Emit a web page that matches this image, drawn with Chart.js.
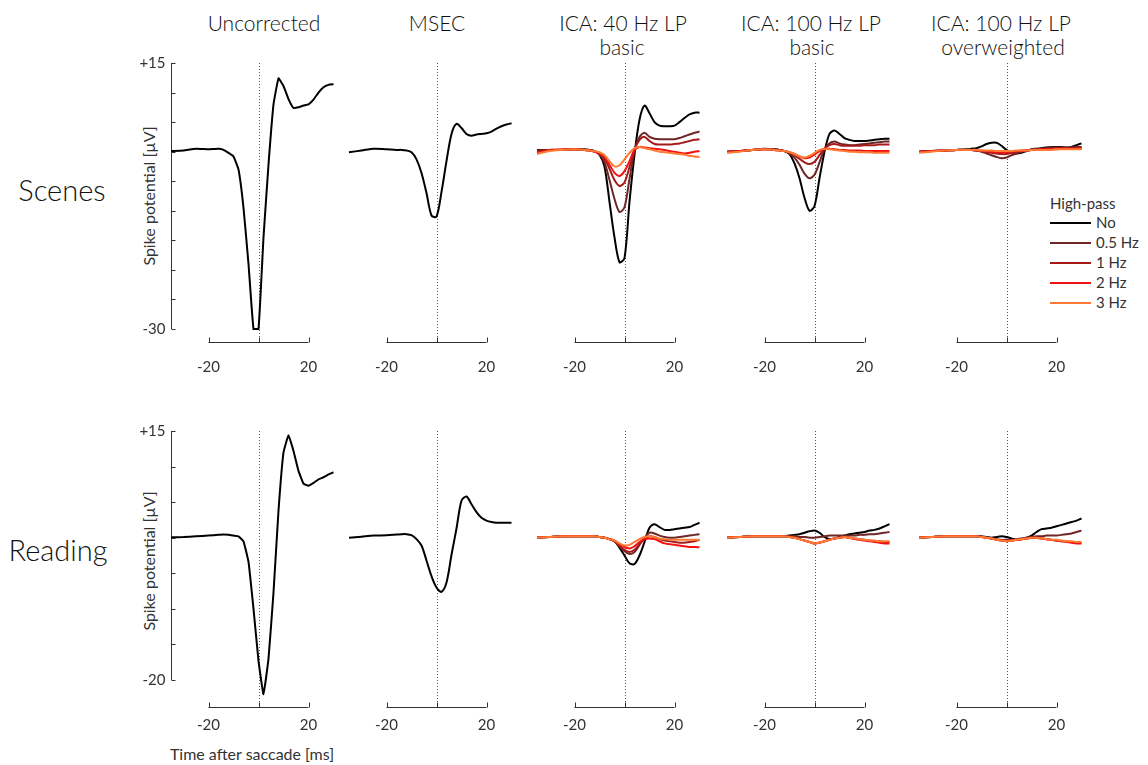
<!DOCTYPE html>
<html>
<head>
<meta charset="utf-8">
<script src="https://cdn.jsdelivr.net/npm/chart.js@4.4.1/dist/chart.umd.min.js"></script>
<style>
  body { margin: 0; background: #fff; width: 1148px; height: 765px; position: relative; overflow: hidden;
         font-family: "Lato", "Open Sans", "Liberation Sans", sans-serif; font-weight: 300; color: #111; }
  .lbl { position: absolute; white-space: nowrap; transform: translate(-50%, -50%); line-height: 1; }
  .rot { transform: translate(-50%, -50%) rotate(-90deg); }
  .small { font-weight: 400; color: #333; }
  canvas { position: absolute; }
  .leg { position: absolute; font-size: 15px; font-weight: 400; color: #333; line-height: 1; white-space: nowrap; }
  span.ln { position: absolute; display: block; width: 41px; height: 0; border-top: 2px solid #000; }
</style>
</head>
<body>
<div id="labels"></div>
<script>
// time axis (ms after saccade onset)
const times = [-35, -30, -25, -20, -16, -14, -12, -10, -8, -6, -4, -2, 0, 2, 4, 6, 8, 10, 12, 14, 16, 18, 20, 22, 24, 26, 28, 30];

// Scenes
const scenesUncorrected = [0.1, 0.2, 0.5, 0.4, 0.5, 0.3, -0.2, -0.8, -3.0, -9.5, -19, -30, -30, -14.5, -2.2, 8.0, 12.4, 11.1, 8.9, 7.4, 7.5, 7.8, 8.0, 8.8, 10.0, 10.9, 11.3, 11.4];
const scenesMsec = [-0.1, 0.2, 0.5, 0.4, 0.3, 0.3, 0.2, -0.1, -1.3, -3.6, -7.0, -10.8, -11.0, -6.8, -1.6, 3.0, 4.7, 4.0, 3.0, 2.7, 2.9, 3.0, 3.1, 3.4, 3.9, 4.3, 4.6, 4.8];

const scenes40No  = [0.3, 0.3, 0.3, 0.4, 0.4, 0.3, 0.1, -0.5, -2.5, -8.5, -14.5, -18.7, -18.0, -8.5, -0.5, 5.4, 7.8, 6.5, 5.0, 4.4, 4.3, 4.3, 4.4, 5.0, 5.7, 6.3, 6.6, 6.6];
const scenes40Hp05 = [0.2, 0.3, 0.3, 0.4, 0.3, 0.2, 0.1, -0.4, -1.8, -4.8, -8.0, -10.2, -9.4, -4.6, 0.2, 2.5, 3.2, 2.5, 2.2, 2.1, 2.1, 2.1, 2.1, 2.3, 2.6, 2.9, 3.2, 3.4];
const scenes40Hp1 = [0.1, 0.3, 0.3, 0.4, 0.3, 0.2, 0.0, -0.4, -1.2, -2.9, -4.8, -5.8, -5.2, -2.6, 0.3, 2.0, 2.5, 1.8, 1.3, 1.2, 1.2, 1.2, 1.3, 1.4, 1.6, 1.8, 2.0, 2.1];
const scenes40Hp2 = [-0.2, 0.2, 0.4, 0.4, 0.3, 0.2, 0.0, -0.3, -0.9, -2.2, -3.6, -4.1, -3.3, -1.6, 0.3, 0.8, 0.7, 0.6, 0.5, 0.4, 0.3, 0.1, 0.0, -0.2, -0.3, -0.2, 0.0, 0.1];
const scenes40Hp3 = [-0.4, 0.1, 0.3, 0.4, 0.3, 0.2, 0.1, -0.1, -0.6, -1.6, -2.5, -2.3, -1.3, -0.2, 0.6, 0.8, 0.6, 0.4, 0.2, 0.0, -0.1, -0.2, -0.3, -0.4, -0.5, -0.7, -0.8, -0.9];

const scenes100No  = [0.0, 0.1, 0.3, 0.5, 0.4, 0.3, 0.1, -0.4, -2.0, -4.5, -7.8, -10.0, -9.2, -4.5, 0.0, 3.0, 3.6, 3.0, 2.3, 2.0, 1.8, 1.8, 1.8, 1.9, 2.0, 2.1, 2.2, 2.2];
const scenes100Hp05 = [0.0, 0.1, 0.3, 0.4, 0.4, 0.3, 0.1, -0.3, -1.0, -2.2, -3.7, -4.5, -3.9, -1.8, 0.4, 1.4, 1.7, 1.4, 1.2, 1.1, 1.1, 1.2, 1.3, 1.4, 1.5, 1.6, 1.7, 1.7];
const scenes100Hp1 = [0.0, 0.1, 0.3, 0.4, 0.3, 0.2, 0.1, -0.2, -0.6, -1.2, -1.8, -2.1, -1.7, -0.6, 0.5, 1.1, 1.3, 1.1, 1.0, 1.0, 1.0, 1.0, 1.1, 1.1, 1.1, 1.2, 1.2, 1.2];
const scenes100Hp2 = [-0.1, 0.1, 0.3, 0.4, 0.3, 0.2, 0.1, -0.1, -0.4, -0.8, -1.1, -1.0, -0.5, 0.1, 0.5, 0.5, 0.4, 0.3, 0.3, 0.2, 0.2, 0.2, 0.1, 0.1, 0.1, 0.1, 0.1, 0.1];
const scenes100Hp3 = [-0.2, 0.0, 0.3, 0.4, 0.3, 0.2, 0.1, -0.1, -0.4, -0.8, -1.0, -0.7, -0.2, 0.3, 0.5, 0.4, 0.3, 0.2, 0.1, 0.0, 0.0, -0.1, -0.1, -0.1, -0.2, -0.2, -0.2, -0.2];

const scenesOwNo  = [0.0, 0.1, 0.2, 0.3, 0.4, 0.5, 0.6, 0.9, 1.3, 1.5, 1.5, 1.0, 0.3, -0.1, -0.3, -0.2, 0.1, 0.4, 0.5, 0.6, 0.7, 0.8, 0.8, 0.8, 0.7, 0.8, 1.1, 1.4];
const scenesOwHp05 = [0.0, 0.1, 0.2, 0.3, 0.3, 0.3, 0.2, 0.0, -0.3, -0.6, -0.9, -1.1, -1.0, -0.6, -0.3, 0.0, 0.2, 0.3, 0.4, 0.5, 0.6, 0.7, 0.7, 0.7, 0.7, 0.7, 0.8, 0.8];
const scenesOwHp1 = [0.0, 0.1, 0.2, 0.3, 0.3, 0.3, 0.2, 0.1, -0.1, -0.2, -0.3, -0.4, -0.4, -0.2, 0.0, 0.1, 0.2, 0.3, 0.4, 0.4, 0.5, 0.5, 0.6, 0.6, 0.6, 0.6, 0.7, 0.7];
const scenesOwHp2 = [-0.1, 0.1, 0.2, 0.3, 0.3, 0.3, 0.2, 0.2, 0.1, 0.0, -0.1, -0.1, -0.1, 0.0, 0.1, 0.2, 0.2, 0.3, 0.3, 0.4, 0.4, 0.4, 0.4, 0.5, 0.5, 0.5, 0.5, 0.5];
const scenesOwHp3 = [-0.2, 0.0, 0.2, 0.3, 0.3, 0.3, 0.3, 0.2, 0.2, 0.2, 0.1, 0.1, 0.1, 0.1, 0.2, 0.2, 0.2, 0.3, 0.3, 0.3, 0.3, 0.3, 0.4, 0.4, 0.4, 0.4, 0.4, 0.4];

// Reading
const readingUncorrected = [0.05, 0.1, 0.2, 0.3, 0.4, 0.45, 0.4, 0.3, 0.2, -0.5, -3.4, -10.0, -17.3, -22.0, -17.0, -7.7, 3.8, 12.0, 14.4, 12.2, 9.4, 7.6, 7.3, 7.7, 8.2, 8.5, 8.9, 9.2];
const readingMsec = [0.0, 0.15, 0.3, 0.35, 0.45, 0.5, 0.5, 0.35, -0.2, -1.1, -3.2, -5.4, -7.0, -7.6, -6.3, -2.4, 1.3, 5.2, 5.8, 4.7, 3.6, 2.8, 2.4, 2.2, 2.1, 2.1, 2.1, 2.1];

const reading40No  = [0.0, 0.1, 0.2, 0.2, 0.2, 0.2, 0.2, 0.1, 0.0, -0.2, -0.5, -1.4, -2.5, -3.6, -3.7, -2.5, -0.6, 1.4, 1.9, 1.5, 1.1, 1.1, 1.2, 1.3, 1.4, 1.5, 1.8, 2.1];
const reading40Hp05 = [0.0, 0.1, 0.2, 0.2, 0.2, 0.2, 0.2, 0.1, 0.0, -0.2, -0.5, -1.2, -1.9, -2.3, -2.0, -1.0, 0.0, 0.7, 0.6, 0.3, 0.1, 0.0, 0.0, 0.1, 0.2, 0.3, 0.4, 0.5];
const reading40Hp1 = [0.0, 0.1, 0.2, 0.2, 0.2, 0.2, 0.2, 0.1, 0.0, -0.2, -0.5, -1.1, -1.7, -2.0, -1.7, -0.9, -0.2, 0.2, 0.1, -0.2, -0.4, -0.5, -0.6, -0.7, -0.7, -0.6, -0.5, -0.3];
const reading40Hp2 = [0.0, 0.1, 0.2, 0.2, 0.2, 0.2, 0.2, 0.1, 0.0, -0.2, -0.4, -0.9, -1.3, -1.5, -1.2, -0.6, -0.2, -0.1, -0.2, -0.5, -0.8, -0.9, -1.0, -1.1, -1.2, -1.3, -1.3, -1.35];
const reading40Hp3 = [0.0, 0.1, 0.2, 0.2, 0.2, 0.2, 0.2, 0.1, 0.0, -0.2, -0.4, -0.8, -1.1, -1.0, -0.6, -0.2, 0.1, 0.2, 0.1, -0.1, -0.2, -0.3, -0.3, -0.3, -0.3, -0.3, -0.3, -0.3];

const reading100No  = [0.0, 0.1, 0.2, 0.2, 0.2, 0.2, 0.2, 0.3, 0.4, 0.5, 0.7, 0.9, 1.0, 0.7, 0.1, -0.2, -0.1, 0.1, 0.3, 0.5, 0.6, 0.7, 0.8, 1.0, 1.1, 1.3, 1.6, 1.9];
const reading100Hp05 = [0.0, 0.1, 0.2, 0.2, 0.2, 0.2, 0.2, 0.2, 0.2, 0.1, 0.1, 0.0, 0.0, 0.1, 0.2, 0.3, 0.3, 0.3, 0.3, 0.3, 0.3, 0.4, 0.4, 0.5, 0.5, 0.6, 0.7, 0.8];
const reading100Hp1 = [0.0, 0.1, 0.2, 0.2, 0.2, 0.2, 0.2, 0.1, 0.0, -0.2, -0.4, -0.6, -0.8, -0.7, -0.5, -0.3, -0.1, 0.0, 0.1, 0.0, -0.1, -0.2, -0.3, -0.4, -0.5, -0.5, -0.6, -0.6];
const reading100Hp2 = [0.0, 0.1, 0.2, 0.2, 0.2, 0.2, 0.2, 0.1, 0.0, -0.2, -0.4, -0.6, -0.8, -0.7, -0.5, -0.3, -0.1, 0.0, 0.1, 0.0, -0.2, -0.3, -0.4, -0.5, -0.6, -0.7, -0.8, -0.8];
const reading100Hp3 = [0.0, 0.1, 0.2, 0.2, 0.2, 0.2, 0.2, 0.1, 0.0, -0.2, -0.4, -0.6, -0.8, -0.7, -0.5, -0.3, -0.1, 0.0, 0.1, 0.0, -0.1, -0.2, -0.3, -0.4, -0.4, -0.5, -0.5, -0.5];

const readingOwNo  = [0.0, 0.1, 0.2, 0.2, 0.2, 0.2, 0.2, 0.2, 0.1, 0.0, 0.1, 0.2, 0.1, -0.1, -0.3, -0.2, 0.0, 0.3, 0.8, 1.2, 1.3, 1.4, 1.6, 1.8, 2.0, 2.2, 2.4, 2.7];
const readingOwHp05 = [0.0, 0.1, 0.2, 0.2, 0.2, 0.2, 0.2, 0.1, 0.0, -0.1, -0.2, -0.3, -0.3, -0.3, -0.2, -0.1, 0.0, 0.1, 0.2, 0.2, 0.3, 0.3, 0.3, 0.4, 0.5, 0.6, 0.8, 1.0];
const readingOwHp1 = [0.0, 0.1, 0.2, 0.2, 0.2, 0.2, 0.2, 0.1, 0.0, -0.1, -0.3, -0.4, -0.5, -0.4, -0.3, -0.2, -0.1, 0.0, 0.0, -0.1, -0.2, -0.3, -0.4, -0.5, -0.5, -0.6, -0.7, -0.7];
const readingOwHp2 = [0.0, 0.1, 0.2, 0.2, 0.2, 0.2, 0.2, 0.1, 0.0, -0.1, -0.3, -0.4, -0.5, -0.4, -0.3, -0.2, -0.1, 0.0, 0.0, -0.1, -0.2, -0.3, -0.4, -0.5, -0.6, -0.7, -0.8, -0.8];
const readingOwHp3 = [0.0, 0.1, 0.2, 0.2, 0.2, 0.2, 0.2, 0.1, 0.0, -0.1, -0.3, -0.4, -0.5, -0.4, -0.3, -0.2, -0.1, 0.0, 0.0, -0.1, -0.2, -0.3, -0.3, -0.4, -0.5, -0.5, -0.6, -0.6];

const hpLabels = ["No", "0.5 Hz", "1 Hz", "2 Hz", "3 Hz"];
const hpColors = ["#000000", "#6e2626", "#a41a1a", "#f21212", "#ff7a33"];
const xTickValues = [-20, 0, 20];
const xTickLabels = ["-20", "", "20"];
const scenesYRange = [-30, 15];
const readingYRange = [-20, 15];

// layout
const zeroX = [258, 436.5, 624, 814, 1006];
const msPx = 2.5;
const rows = [
  { top: 63, bottom: 329, range: scenesYRange, axisGap: 13, labelGap: 25 },
  { top: 431, bottom: 680, range: readingYRange, axisGap: 27, labelGap: 18 }
];
const FONT = '"Lato", "Open Sans", "Liberation Sans", sans-serif';

const panelAxes = {
  id: "panelAxes",
  beforeDatasetsDraw(chart, args, o) {
    const { ctx, chartArea, scales: { x, y } } = chart;
    const axisY = Math.round(chartArea.bottom + o.axisGap) + 0.5;
    ctx.save();
    // dotted line at saccade onset
    const x0 = Math.round(x.getPixelForValue(0)) + 0.5;
    ctx.strokeStyle = "#555";
    ctx.lineWidth = 1;
    ctx.setLineDash([1, 2]);
    ctx.beginPath();
    ctx.moveTo(x0, chartArea.top);
    ctx.lineTo(x0, axisY);
    ctx.stroke();
    ctx.setLineDash([]);

    // short x axis from -20 to 20
    ctx.strokeStyle = "#333";
    ctx.beginPath();
    ctx.moveTo(x.getPixelForValue(xTickValues[0]), axisY);
    ctx.lineTo(x.getPixelForValue(xTickValues[xTickValues.length - 1]), axisY);
    xTickValues.forEach(v => {
      const px = Math.round(x.getPixelForValue(v)) + 0.5;
      ctx.moveTo(px, axisY);
      ctx.lineTo(px, axisY - 5);
    });
    ctx.stroke();
    ctx.fillStyle = "#333";
    ctx.font = "15px " + FONT;
    ctx.textAlign = "center";
    ctx.textBaseline = "middle";
    xTickValues.forEach((v, i) => {
      if (xTickLabels[i]) ctx.fillText(xTickLabels[i], x.getPixelForValue(v), axisY + o.labelGap);
    });

    if (o.showY) {
      const xl = Math.round(chartArea.left) + 0.5;
      ctx.strokeStyle = "#333";
      ctx.beginPath();
      ctx.moveTo(xl, y.getPixelForValue(y.max));
      ctx.lineTo(xl, y.getPixelForValue(y.min));
      for (let v = y.min; v <= y.max; v += 5) {
        const py = Math.round(y.getPixelForValue(v)) + 0.5;
        ctx.moveTo(xl, py);
        ctx.lineTo(xl + 4, py);
      }
      ctx.stroke();
      ctx.textAlign = "right";
      ctx.fillText("+" + y.max, xl - 6, y.getPixelForValue(y.max));
      ctx.fillText(String(y.min), xl - 6, y.getPixelForValue(y.min));
    }
    ctx.restore();
  }
};

function makePanel(rowIdx, colIdx, series) {
  const row = rows[rowIdx];
  const padL = 50, padR = 20, padT = 12, padB = 50;
  const plotLeft = zeroX[colIdx] - 35 * msPx;
  const plotW = 65 * msPx;
  const plotH = row.bottom - row.top;
  const canvas = document.createElement("canvas");
  canvas.width = Math.round(padL + plotW + padR);
  canvas.height = Math.round(padT + plotH + padB);
  canvas.style.left = (plotLeft - padL) + "px";
  canvas.style.top = (row.top - padT) + "px";
  document.body.appendChild(canvas);

  const n = series.length;
  new Chart(canvas, {
    type: "line",
    data: {
      datasets: series.map((vals, i) => ({
        data: times.map((t, k) => ({ x: t, y: vals[k] })),
        borderColor: n === 1 ? "#000" : hpColors[i],
        borderWidth: 2,
        pointRadius: 0,
        tension: colIdx === 0 ? 0.1 : 0.3,
        clip: false,
        order: n - i
      }))
    },
    options: {
      responsive: false,
      animation: false,
      events: [],
      layout: { padding: { left: padL, right: canvas.width - padL - plotW, top: padT, bottom: padB } },
      scales: {
        x: { type: "linear", min: -35, max: 30, display: false },
        y: { min: row.range[0], max: row.range[1], display: false }
      },
      plugins: {
        legend: { display: false },
        tooltip: { enabled: false },
        panelAxes: { showY: colIdx === 0, axisGap: row.axisGap, labelGap: row.labelGap }
      }
    },
    plugins: [panelAxes]
  });
}

makePanel(0, 0, [scenesUncorrected]);
makePanel(0, 1, [scenesMsec]);
makePanel(0, 2, [scenes40No, scenes40Hp05, scenes40Hp1, scenes40Hp2, scenes40Hp3]);
makePanel(0, 3, [scenes100No, scenes100Hp05, scenes100Hp1, scenes100Hp2, scenes100Hp3]);
makePanel(0, 4, [scenesOwNo, scenesOwHp05, scenesOwHp1, scenesOwHp2, scenesOwHp3]);
makePanel(1, 0, [readingUncorrected]);
makePanel(1, 1, [readingMsec]);
makePanel(1, 2, [reading40No, reading40Hp05, reading40Hp1, reading40Hp2, reading40Hp3]);
makePanel(1, 3, [reading100No, reading100Hp05, reading100Hp1, reading100Hp2, reading100Hp3]);
makePanel(1, 4, [readingOwNo, readingOwHp05, readingOwHp1, readingOwHp2, readingOwHp3]);

// text labels
const texts = [
  ["Uncorrected", 264, 22, 21, ""],
  ["MSEC", 437, 22, 21, ""],
  ["ICA: 40 Hz LP", 623, 22, 21, ""],
  ["basic", 622, 46, 21, ""],
  ["ICA: 100 Hz LP", 811, 22, 21, ""],
  ["basic", 812, 46, 21, ""],
  ["ICA: 100 Hz LP", 1001, 22, 21, ""],
  ["overweighted", 1003, 46, 21, ""],
  ["Scenes", 62, 189, 29, ""],
  ["Reading", 58, 549, 29, ""],
  ["Time after saccade [ms]", 252, 754, 16, "small"]
];
const box = document.getElementById("labels");
texts.forEach(([s, x, y, size, cls]) => {
  const d = document.createElement("div");
  d.className = "lbl " + cls;
  d.textContent = s;
  d.style.left = x + "px";
  d.style.top = y + "px";
  d.style.fontSize = size + "px";
  box.appendChild(d);
});
[196, 561].forEach(y => {
  const d = document.createElement("div");
  d.className = "lbl rot small";
  d.textContent = "Spike potential [µV]";
  d.style.left = "149px";
  d.style.top = y + "px";
  d.style.fontSize = "16px";
  box.appendChild(d);
});

// legend
const legTitle = document.createElement("div");
legTitle.className = "leg";
legTitle.textContent = "High-pass";
legTitle.style.left = "1050px";
legTitle.style.top = "196px";
box.appendChild(legTitle);
hpLabels.forEach((s, i) => {
  const y = 223 + i * 19.9;
  const ln = document.createElement("span");
  ln.className = "ln";
  ln.style.left = "1050px";
  ln.style.top = (y - 1) + "px";
  ln.style.borderTopColor = hpColors[i];
  box.appendChild(ln);
  const t = document.createElement("div");
  t.className = "leg";
  t.textContent = s;
  t.style.left = "1096px";
  t.style.top = (y - 8) + "px";
  box.appendChild(t);
});
</script>
</body>
</html>
